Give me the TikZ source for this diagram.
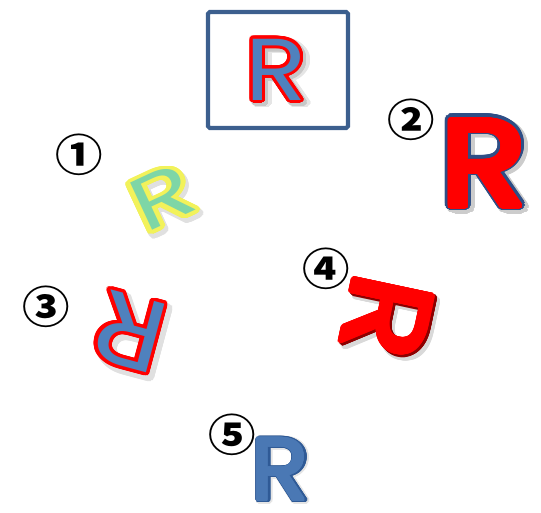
\documentclass[tikz,border=0pt]{standalone}
\usepackage{fontspec}
\usepackage[copies]{contour}
\newfontfamily\letterfont{Poppins}
\newfontfamily\numfont{Noto Sans CJK JP}
\contournumber{32}
\definecolor{frameblue}{HTML}{3C5F8E}
\definecolor{steelfill}{HTML}{4F81BD}
\definecolor{darkline}{HTML}{2E4E86}
\definecolor{tealfill}{HTML}{7ED6A6}
\definecolor{glowyellow}{HTML}{F2F25A}
\definecolor{softblue}{HTML}{4A78B4}
\definecolor{deepblue}{HTML}{2F5A96}
\newcommand{\outl}[3]{{\contourlength{#1}\contour{#2}{#3}}}
\tikzset{
  frame/.style={draw=frameblue, line width=2.4pt, rounded corners=1pt},
  letter/.style={inner sep=0pt, outer sep=0pt},
  numlabel/.style={inner sep=0pt, font=\numfont\bfseries\fontsize{25}{25}\selectfont, xscale=1.08},
}
\begin{document}
\begin{tikzpicture}[x=0.02cm, y=-0.02cm]
\useasboundingbox (0,0) rectangle (541,513);
% framed letter
\draw[frame] (208,12) rectangle (348,128);
\node[letter, font=\letterfont\fontsize{50}{50}\selectfont, text=black!10, xscale=1.15] at (281,75) {\outl{2.4pt}{black!10}{R}};
\node[letter, font=\letterfont\fontsize{50}{50}\selectfont, text=black!22, xscale=1.15] at (279,74) {\outl{1.8pt}{black!22}{R}};
\node[letter, font=\letterfont\fontsize{50}{50}\selectfont, text=steelfill, xscale=1.15] (rbox) at (276,71) {\outl{1.6pt}{red}{R}};
% 1
\node[numlabel] (n1) at (79,155) {①};
\node[letter, font=\letterfont\fontsize{50}{50}\selectfont, text=black!12, rotate=25, xscale=1.15, yscale=0.85] at (166,203) {\outl{2.8pt}{black!12}{R}};
\node[letter, font=\letterfont\fontsize{50}{50}\selectfont, text=tealfill, rotate=25, xscale=1.15, yscale=0.85] (r1) at (163,199) {\outl{2.4pt}{glowyellow}{R}};
% 2
\node[numlabel] (n2) at (411,120) {②};
\node[letter, font=\letterfont\fontsize{70}{70}\selectfont, text=black!20, xscale=1.15] at (487,168) {\outl{3.6pt}{black!20}{R}};
\node[letter, font=\letterfont\fontsize{70}{70}\selectfont, text=darkline, xscale=1.15] at (484,165) {\outl{3.2pt}{darkline}{R}};
\node[letter, font=\letterfont\fontsize{70}{70}\selectfont, text=red, xscale=1.15] (r2) at (484,165) {\outl{1.8pt}{red}{R}};
% 3
\node[numlabel] (n3) at (46,307) {③};
\node[letter, font=\letterfont\fontsize{58}{58}\selectfont, text=black!12, rotate=165, xscale=1.15] at (134,334) {\outl{2.4pt}{black!12}{R}};
\node[letter, font=\letterfont\fontsize{58}{58}\selectfont, text=steelfill, rotate=165, xscale=1.15] (r3) at (130,330) {\outl{1.8pt}{red}{R}};
% 4
\node[numlabel] (n4) at (326,269) {④};
\node[letter, font=\letterfont\fontsize{66}{66}\selectfont, text=black!15, rotate=-102, xscale=1.15] at (390,322) {\outl{1.8pt}{black!15}{R}};
\node[letter, font=\letterfont\fontsize{66}{66}\selectfont, text=red!55!black, rotate=-102, xscale=1.15] at (388,319) {\outl{1.4pt}{red!55!black}{R}};
\node[letter, font=\letterfont\fontsize{66}{66}\selectfont, text=red, rotate=-102, xscale=1.15] (r4) at (386,317) {\outl{1.2pt}{red}{R}};
% 5
\node[numlabel] (n5) at (232,435) {⑤};
\node[letter, font=\letterfont\fontsize{50}{50}\selectfont, text=black!10, xscale=1.1] at (282,472) {\outl{2pt}{black!10}{R}};
\node[letter, font=\letterfont\fontsize{50}{50}\selectfont, text=deepblue, xscale=1.1] at (281,471) {\outl{1.4pt}{deepblue}{R}};
\node[letter, font=\letterfont\fontsize{50}{50}\selectfont, text=softblue, xscale=1.1] (r5) at (280,470) {\outl{0.7pt}{softblue}{R}};
\end{tikzpicture}
\end{document}
